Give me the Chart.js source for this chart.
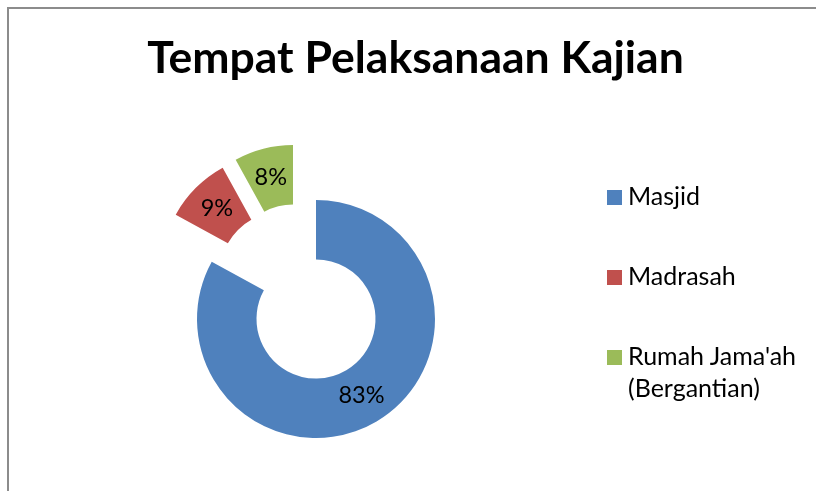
<!DOCTYPE html>
<html>
<head>
<meta charset="utf-8">
<script src="https://cdn.jsdelivr.net/npm/chart.js@4/dist/chart.umd.min.js"></script>
<style>
  html, body { margin:0; padding:0; background:#fff; }
  #wrap { position:relative; width:816px; height:491px; overflow:hidden; font-family: Lato, "Open Sans", sans-serif; }
  #frame { position:absolute; left:7px; top:7px; width:900px; height:600px; border:2px solid #8c8c8c; box-sizing:border-box; }
  #c { position:absolute; left:0; top:0; }
  #title { position:absolute; left:0; width:831px; top:33.5px; text-align:center; font-weight:700; font-size:44.5px; line-height:44.5px; color:#000; }
  .leg { position:absolute; left:607px; }
  .sw { position:absolute; left:0; width:15px; height:15px; }
  .lt { position:absolute; left:21px; font-size:25px; line-height:32px; color:#000; white-space:nowrap; }
</style>
</head>
<body>
<div id="wrap">
  <div id="frame"></div>
  <canvas id="c" width="816" height="491"></canvas>
  <div id="title">Tempat Pelaksanaan Kajian</div>
  <div id="legend"></div>
</div>
<script>
const categories = ["Masjid", "Madrasah", "Rumah Jama'ah (Bergantian)"];
const legendLines = [["Masjid"], ["Madrasah"], ["Rumah Jama'ah", "(Bergantian)"]];
const percentages = [83, 9, 8];

const colors = ["#4F81BD", "#C0504D", "#9BBB59"];
// explosion (style): pixel shift of each slice away from the centre
const explodeShift = [[0, 0], [-36, -47], [-23, -55]];

const explodePlugin = {
  id: 'explode',
  afterDatasetsUpdate(chart) {
    const meta = chart.getDatasetMeta(0);
    meta.data.forEach((arc, i) => {
      arc.x += explodeShift[i][0];
      arc.y += explodeShift[i][1];
    });
  }
};

const labelPlugin = {
  id: 'sliceLabels',
  afterDatasetsDraw(chart) {
    const ctx = chart.ctx;
    const meta = chart.getDatasetMeta(0);
    ctx.save();
    ctx.font = '23.5px Lato, "Open Sans", sans-serif';
    ctx.fillStyle = '#000';
    ctx.textAlign = 'center';
    ctx.textBaseline = 'middle';
    meta.data.forEach((arc, i) => {
      const p = arc.getCenterPoint();
      ctx.fillText(percentages[i] + '%', p.x, p.y);
    });
    ctx.restore();
  }
};

new Chart(document.getElementById('c'), {
  type: 'doughnut',
  data: {
    labels: categories,
    datasets: [{
      data: percentages,
      backgroundColor: colors,
      borderWidth: 0,
      radius: 119,
    }]
  },
  options: {
    responsive: false,
    animation: false,
    cutout: '50%',
    layout: { padding: { left: 0, right: 184, top: 147, bottom: 0 } },
    plugins: {
      legend: { display: false },
      tooltip: { enabled: false },
      title: { display: false }
    }
  },
  plugins: [explodePlugin, labelPlugin]
});

// HTML legend built from the categories
const legTops = [179.3, 259.3, 339.3];
const legend = document.getElementById('legend');
legendLines.forEach((lines, i) => {
  const item = document.createElement('div');
  item.className = 'leg';
  item.style.top = legTops[i] + 'px';
  const sw = document.createElement('div');
  sw.className = 'sw';
  sw.style.background = colors[i];
  sw.style.top = '10.5px';
  const t = document.createElement('div');
  t.className = 'lt';
  t.innerHTML = lines.map(s => s.replace(/&/g,'&amp;')).join('<br>');
  item.appendChild(sw);
  item.appendChild(t);
  legend.appendChild(item);
});
</script>
</body>
</html>
